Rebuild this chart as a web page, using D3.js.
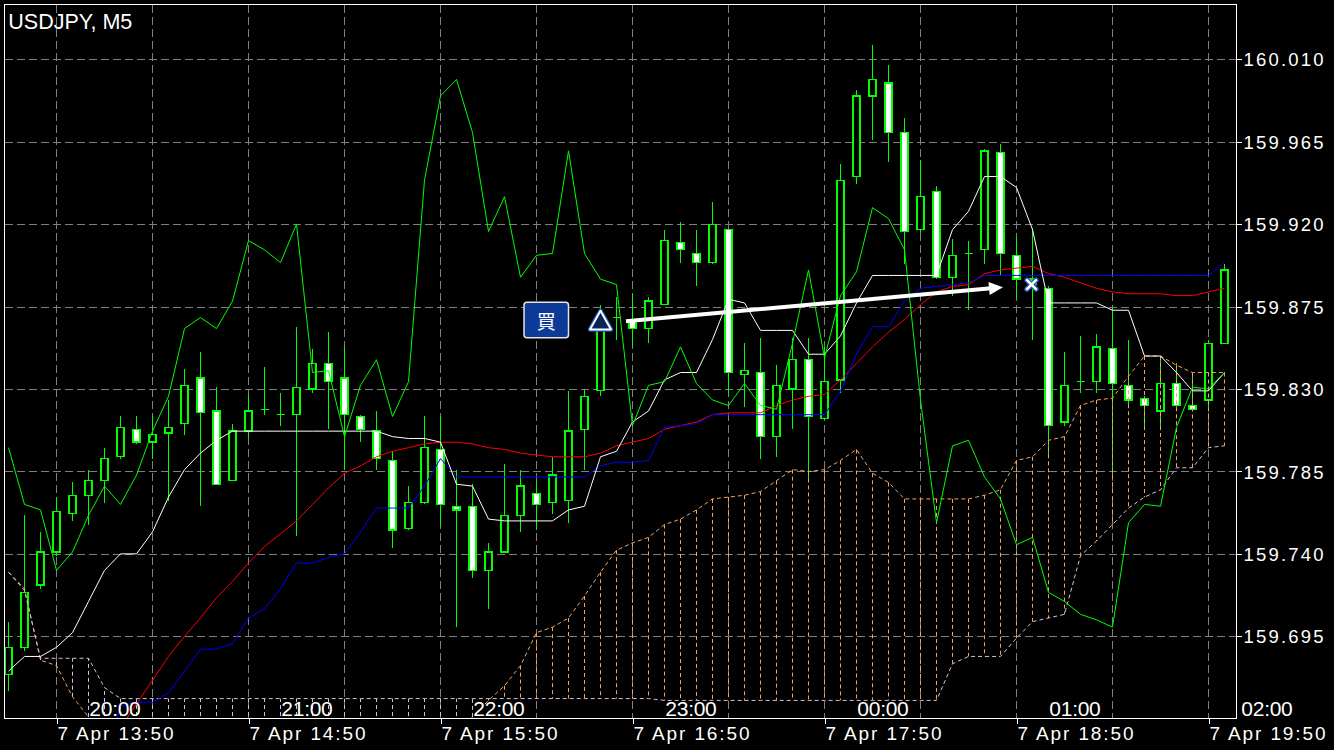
<!DOCTYPE html>
<html><head><meta charset="utf-8">
<script src="https://cdn.jsdelivr.net/npm/d3@7"></script>
<style>html,body{margin:0;padding:0;background:#000;overflow:hidden}</style>
</head><body><svg id="c" width="1334" height="750"></svg>
<script>
// ---------------- data ----------------
const symbolTitle = "USDJPY, M5";
const opens = [159.674,159.689,159.723,159.741,159.762,159.772,159.780,159.793,159.808,159.801,
159.806,159.811,159.836,159.818,159.780,159.807,159.819,159.816,159.816,159.830,
159.844,159.836,159.815,159.807,159.791,159.754,159.768,159.797,159.766,159.766,
159.731,159.741,159.761,159.773,159.768,159.769,159.808,159.829,159.869,159.867,
159.863,159.876,159.910,159.904,159.899,159.917,159.838,159.839,159.804,159.830,
159.846,159.814,159.835,159.946,159.990,159.997,159.970,159.917,159.938,159.891,
159.904,159.906,159.959,159.903,159.890,159.885,159.812,159.834,159.834,159.852,
159.832,159.825,159.818,159.833,159.821,159.824,159.855];
const highs = [159.703,159.761,159.752,159.771,159.779,159.786,159.798,159.815,159.815,159.815,
159.824,159.841,159.850,159.831,159.811,159.827,159.842,159.828,159.864,159.852,
159.861,159.853,159.816,159.818,159.796,159.777,159.815,159.815,159.786,159.778,
159.746,159.789,159.786,159.780,159.793,159.829,159.830,159.876,159.880,159.882,
159.880,159.917,159.921,159.917,159.932,159.918,159.855,159.858,159.843,159.858,
159.858,159.853,159.953,159.993,160.018,160.007,159.978,159.955,159.941,159.912,
159.911,159.961,159.964,159.913,159.918,159.886,159.850,159.859,159.860,159.874,
159.857,159.826,159.847,159.844,159.837,159.857,159.898];
const lows = [159.665,159.687,159.721,159.739,159.758,159.756,159.768,159.792,159.800,159.792,
159.769,159.805,159.766,159.778,159.780,159.803,159.816,159.810,159.750,159.828,
159.808,159.786,159.801,159.786,159.743,159.753,159.767,159.755,159.700,159.727,
159.710,159.741,159.752,159.753,159.762,159.757,159.786,159.826,159.857,159.853,
159.855,159.876,159.899,159.886,159.898,159.827,159.820,159.792,159.793,159.808,
159.780,159.813,159.828,159.942,159.966,159.954,159.898,159.915,159.890,159.881,
159.873,159.898,159.892,159.879,159.857,159.793,159.810,159.828,159.828,159.781,
159.820,159.810,159.808,159.820,159.818,159.818,159.855];
const closes = [159.689,159.719,159.741,159.763,159.772,159.780,159.792,159.809,159.801,159.805,
159.809,159.832,159.817,159.778,159.807,159.818,159.819,159.816,159.831,159.844,
159.834,159.816,159.808,159.792,159.753,159.768,159.798,159.767,159.764,159.731,
159.741,159.761,159.777,159.767,159.783,159.807,159.826,159.863,159.869,159.863,
159.878,159.911,159.906,159.899,159.920,159.839,159.840,159.804,159.832,159.846,
159.815,159.834,159.944,159.990,159.999,159.970,159.916,159.935,159.891,159.903,
159.904,159.960,159.904,159.890,159.887,159.810,159.832,159.834,159.853,159.833,
159.824,159.821,159.833,159.821,159.819,159.855,159.895];
// white line
const lineWhite = [159.676,159.684,159.684,159.689,159.697,159.714,159.731,159.740,159.740,159.752,
159.771,159.786,159.795,159.802,159.807,159.807,159.807,159.807,159.807,159.807,
159.807,159.807,159.807,159.807,159.804,159.803,159.803,159.801,159.778,159.777,
159.759,159.758,159.758,159.758,159.758,159.764,159.766,159.793,159.796,159.812,
159.818,159.835,159.839,159.839,159.857,159.879,159.877,159.862,159.862,159.862,
159.849,159.849,159.859,159.877,159.892,159.892,159.892,159.892,159.892,159.917,
159.927,159.946,159.946,159.940,159.917,159.877,159.877,159.877,159.877,159.873,
159.873,159.848,159.848,159.839,159.829,159.829,159.839];
// blue line
const lineBlue = [null,null,null,null,null,null,159.625,159.657,159.659,159.659,
159.664,159.676,159.688,159.688,159.691,159.705,159.710,159.721,159.735,159.735,
159.738,159.740,159.752,159.765,159.765,159.765,159.777,159.792,159.782,159.782,
159.782,159.782,159.782,159.782,159.782,159.782,159.782,159.788,159.790,159.790,
159.791,159.809,159.810,159.811,159.816,159.816,159.816,159.816,159.816,159.816,
159.816,159.816,159.829,159.849,159.864,159.864,159.878,159.885,159.886,159.887,
159.888,159.892,159.892,159.892,159.892,159.892,159.892,159.892,159.892,159.892,
159.892,159.892,159.892,159.892,159.892,159.892,159.899];
// red line
const lineRed = [null,null,null,null,null,null,null,159.645,159.658,159.671,
159.684,159.695,159.705,159.716,159.725,159.735,159.744,159.751,159.758,159.767,
159.776,159.784,159.788,159.793,159.796,159.798,159.800,159.801,159.801,159.800,
159.798,159.797,159.795,159.794,159.793,159.793,159.793,159.795,159.799,159.801,
159.803,159.808,159.810,159.812,159.816,159.817,159.817,159.817,159.821,159.824,
159.826,159.827,159.835,159.844,159.853,159.861,159.868,159.876,159.883,159.886,
159.887,159.893,159.895,159.896,159.897,159.893,159.891,159.888,159.885,159.883,
159.882,159.882,159.882,159.881,159.881,159.883,159.885];
// lagging (green) line
const chikou = [159.798,159.767,159.764,159.731,159.741,159.761,159.777,159.767,159.783,159.807,
159.826,159.863,159.869,159.863,159.878,159.911,159.906,159.899,159.920,159.839,
159.840,159.804,159.832,159.846,159.815,159.834,159.944,159.990,159.999,159.970,
159.916,159.935,159.891,159.903,159.904,159.960,159.904,159.890,159.887,159.810,
159.832,159.834,159.853,159.833,159.824,159.821,159.833,159.821,159.819,159.855,
159.895,159.847,159.881,159.894,159.929,159.923,159.906,159.824,159.757,159.799,
159.802,159.782,159.770,159.745,159.749,159.719,159.714,159.707,159.704,159.700,
159.757,159.767,159.766,159.809,159.831,159.830,159.839];
// cloud spans
const spanA = [159.730,159.721,159.682,159.679,159.662,159.651,159.640,159.640,159.640,159.640,
159.640,159.640,159.640,159.640,159.640,159.640,159.640,159.640,159.640,159.640,
159.640,159.640,159.640,159.640,159.640,159.640,159.640,159.640,159.640,159.651,
159.660,159.668,159.679,159.697,159.700,159.705,159.717,159.730,159.742,159.746,
159.749,159.756,159.759,159.764,159.770,159.771,159.772,159.774,159.780,159.786,
159.785,159.786,159.791,159.797,159.784,159.779,159.770,159.770,159.770,159.770,
159.770,159.772,159.775,159.791,159.793,159.802,159.804,159.821,159.824,159.825,
159.837,159.848,159.848,159.843,159.839,159.839,159.839];
const spanB = [159.730,159.720,159.683,159.683,159.683,159.683,159.667,159.661,159.661,159.661,
159.661,159.661,159.661,159.661,159.661,159.661,159.661,159.661,159.661,159.661,
159.661,159.661,159.661,159.661,159.661,159.661,159.661,159.661,159.661,159.661,
159.661,159.661,159.661,159.661,159.661,159.661,159.661,159.661,159.661,159.661,
159.661,159.660,159.660,159.660,159.660,159.660,159.660,159.660,159.660,159.660,
159.660,159.660,159.660,159.660,159.660,159.660,159.660,159.660,159.660,159.680,
159.684,159.684,159.684,159.694,159.703,159.705,159.707,159.739,159.747,159.756,
159.765,159.771,159.775,159.787,159.787,159.798,159.799];
const priceTicks = [160.010,159.965,159.920,159.875,159.830,159.785,159.740,159.695];
const gridBars = [3,9,15,21,27,33,39,45,51,57,63,69,75];
const timeTickBars = [3,15,27,39,51,63,75];
const timeTickLabels = ["7 Apr 13:50","7 Apr 14:50","7 Apr 15:50","7 Apr 16:50","7 Apr 17:50","7 Apr 18:50","7 Apr 19:50"];
const localHourBars = [5,17,29,41,53,65,77];
const localHourLabels = ["20:00","21:00","22:00","23:00","00:00","01:00","02:00"];
const buyMarkerBar = 37;
const buyLabel = "買";
const tradeEntry = {bar: 39, price: 159.867};
const tradeExit = {bar: 64, price: 159.887};

// ---------------- drawing ----------------
const W = 1334, H = 750;
const plot = {left: 4.5, top: 4.5, right: 1236.5, bottom: 718.5};
const FONT = "'Liberation Sans', Arial, sans-serif";
const x = d3.scaleLinear().domain([0, 76]).range([8.5, 1224.5]);
const y = d3.scaleLinear().domain([159.695, 160.010]).range([636.3, 59.3]);

const svg = d3.select("#c");
svg.append("rect").attr("width", W).attr("height", H).attr("fill", "#000");
svg.append("defs").append("clipPath").attr("id", "plotClip")
  .append("rect").attr("x", plot.left).attr("y", plot.top)
  .attr("width", plot.right - plot.left).attr("height", plot.bottom - plot.top);
const g = svg.append("g").attr("clip-path", "url(#plotClip)");

// grid
const grid = g.append("g").attr("stroke", "#808080").attr("stroke-width", 1)
  .attr("stroke-dasharray", "8,4").attr("shape-rendering", "crispEdges");
grid.selectAll(".vg").data(gridBars).join("line").attr("class", "vg")
  .attr("x1", d => x(d)).attr("x2", d => x(d)).attr("y1", plot.top).attr("y2", plot.bottom);
grid.selectAll(".hg").data(priceTicks).join("line").attr("class", "hg")
  .attr("x1", plot.left).attr("x2", plot.right)
  .attr("y1", d => Math.round(y(d)) + 0.5).attr("y2", d => Math.round(y(d)) + 0.5);

// candles
const bars = d3.range(opens.length).map(i => ({i, o: opens[i], h: highs[i], l: lows[i], c: closes[i]}));
const cg = g.append("g").attr("shape-rendering", "crispEdges");
cg.selectAll(".wick").data(bars).join("line").attr("class", "wick")
  .attr("x1", d => x(d.i)).attr("x2", d => x(d.i))
  .attr("y1", d => y(d.h)).attr("y2", d => y(d.l))
  .attr("stroke", "#00ff00").attr("stroke-width", 1);
const bodies = bars.filter(d => Math.abs(d.o - d.c) >= 0.0006);
const dojis = bars.filter(d => Math.abs(d.o - d.c) < 0.0006);
cg.selectAll(".body").data(bodies).join("rect").attr("class", "body")
  .attr("x", d => x(d.i) - 3.5).attr("width", 7)
  .attr("y", d => y(Math.max(d.o, d.c))).attr("height", d => Math.abs(y(d.o) - y(d.c)))
  .attr("fill", d => d.c > d.o ? "#000" : "#fff")
  .attr("stroke", "#00ff00").attr("stroke-width", 1.3);
cg.selectAll(".doji").data(dojis).join("line").attr("class", "doji")
  .attr("x1", d => x(d.i) - 4).attr("x2", d => x(d.i) + 4)
  .attr("y1", d => y(d.o)).attr("y2", d => y(d.o))
  .attr("stroke", "#00ff00").attr("stroke-width", 1.3);

// cloud hatching
const hatch = d3.range(spanA.length).map(i => ({i, a: spanA[i], b: spanB[i]}));
g.append("g").selectAll("line").data(hatch).join("line")
  .attr("x1", d => x(d.i)).attr("x2", d => x(d.i))
  .attr("y1", d => y(d.a)).attr("y2", d => y(d.b))
  .attr("stroke", d => d.a >= d.b ? "#F4A460" : "#D8BFD8")
  .attr("stroke-width", 1).attr("stroke-dasharray", "4,3");

const lineGen = d3.line().defined(d => d != null).x((d, i) => x(i)).y(d => y(d));
function drawLine(arr, color, dash) {
  g.append("path").datum(arr).attr("d", lineGen).attr("fill", "none")
    .attr("stroke", color).attr("stroke-width", 1)
    .attr("stroke-dasharray", dash || null);
}
drawLine(spanA, "#F4A460", "4,3");
drawLine(spanB, "#D8BFD8", "4,3");
drawLine(lineRed, "#ff0000");
drawLine(lineBlue, "#0000ff");
drawLine(lineWhite, "#ffffff");
drawLine(chikou, "#00ff00");

// trade markers
const tx = x(buyMarkerBar), ty = y(tradeEntry.price);
const mk = svg.append("g");
mk.append("rect").attr("x", tx - 76.5).attr("y", ty - 19).attr("width", 44.5).attr("height", 35.5)
  .attr("rx", 3).attr("fill", "#0d3a98").attr("stroke", "#e6e6e6").attr("stroke-width", 1.5);
mk.append("text").attr("x", tx - 54.2).attr("y", ty - 1.2).attr("text-anchor", "middle")
  .attr("dominant-baseline", "central").attr("fill", "#fff")
  .attr("font-family", "'Noto Sans CJK JP', sans-serif").attr("font-size", 19).text(buyLabel);
const triPath = `M${tx},${ty - 10.5} L${tx + 10.5},${ty + 8.2} L${tx - 10.5},${ty + 8.2} Z`;
mk.append("path").attr("d", triPath).attr("fill", "none").attr("stroke", "#1f4fae").attr("stroke-width", 4.5).attr("stroke-linejoin", "round");
mk.append("path").attr("d", triPath).attr("fill", "#0b2458").attr("stroke", "#fff").attr("stroke-width", 2).attr("stroke-linejoin", "round");

// arrow from entry to exit
const sx = x(tradeEntry.bar) - 6.5, sy = ty;
const ex = x(tradeExit.bar), ey = y(tradeExit.price);
const dx = ex - sx, dy = ey - sy, len = Math.hypot(dx, dy);
const ux = dx / len, uy = dy / len;
const tipDist = (ex - 29.5 - sx) / ux;
const tipX = sx + ux * tipDist, tipY = sy + uy * tipDist;
const headLen = 14, headW = 6.5;
const bx = tipX - ux * headLen, by = tipY - uy * headLen;
mk.append("line").attr("x1", sx).attr("y1", sy).attr("x2", bx + ux * 2).attr("y2", by + uy * 2)
  .attr("stroke", "#fff").attr("stroke-width", 4);
mk.append("path").attr("d", `M${tipX},${tipY} L${bx - uy * headW},${by + ux * headW} L${bx + uy * headW},${by - ux * headW} Z`)
  .attr("fill", "#fff");

// exit X marker
const xx = ex - 1, xy = ey;
const xPath = `M${xx - 4.5},${xy - 4.5} L${xx + 4.5},${xy + 4.5} M${xx + 4.5},${xy - 4.5} L${xx - 4.5},${xy + 4.5}`;
mk.append("path").attr("d", xPath).attr("stroke", "#2456b8").attr("stroke-width", 5.5).attr("stroke-linecap", "round");
mk.append("path").attr("d", xPath).attr("stroke", "#fff").attr("stroke-width", 2.6).attr("stroke-linecap", "round");

// frame
svg.append("rect").attr("x", plot.left).attr("y", plot.top)
  .attr("width", plot.right - plot.left).attr("height", plot.bottom - plot.top)
  .attr("fill", "none").attr("stroke", "#fff").attr("stroke-width", 1).attr("shape-rendering", "crispEdges");

// price axis (right)
const yAxis = d3.axisRight(y).tickValues(priceTicks).tickFormat(d3.format(".3f"))
  .tickSize(5).tickSizeOuter(0).tickPadding(2);
const ya = svg.append("g").attr("transform", `translate(${plot.right},0)`).call(yAxis);
ya.select(".domain").remove();
ya.selectAll(".tick line").attr("stroke", "#fff").attr("shape-rendering", "crispEdges");
ya.selectAll(".tick text").attr("fill", "#fff").attr("font-family", FONT).attr("font-size", 18.5)
  .attr("textLength", 80).attr("lengthAdjust", "spacing").attr("dy", "0.36em");

// time axis (bottom)
const xAxis = d3.axisBottom(x).tickValues(timeTickBars).tickFormat((d, i) => timeTickLabels[i])
  .tickSize(5).tickSizeOuter(0);
const xa = svg.append("g").attr("transform", `translate(0,${plot.bottom})`).call(xAxis);
xa.select(".domain").remove();
xa.selectAll(".tick line").attr("stroke", "#fff").attr("shape-rendering", "crispEdges");
xa.selectAll(".tick text").attr("fill", "#fff").attr("font-family", FONT).attr("font-size", 19)
  .attr("text-anchor", "start").attr("x", 0.5).attr("y", 21.5).attr("dy", 0)
  .attr("textLength", 116).attr("lengthAdjust", "spacing");

// local-time hour labels
svg.append("g").selectAll("text").data(localHourBars).join("text")
  .attr("x", d => x(d) + 0.8).attr("y", 716)
  .attr("fill", "#fff").attr("font-family", FONT).attr("font-size", 21)
  .attr("textLength", 51.5).attr("lengthAdjust", "spacing")
  .text((d, i) => localHourLabels[i]);

// title
svg.append("text").attr("x", 8.3).attr("y", 29.3).attr("fill", "#fff")
  .attr("font-family", FONT).attr("font-size", 22)
  .attr("textLength", 124).attr("lengthAdjust", "spacingAndGlyphs").text(symbolTitle);
</script></body></html>
